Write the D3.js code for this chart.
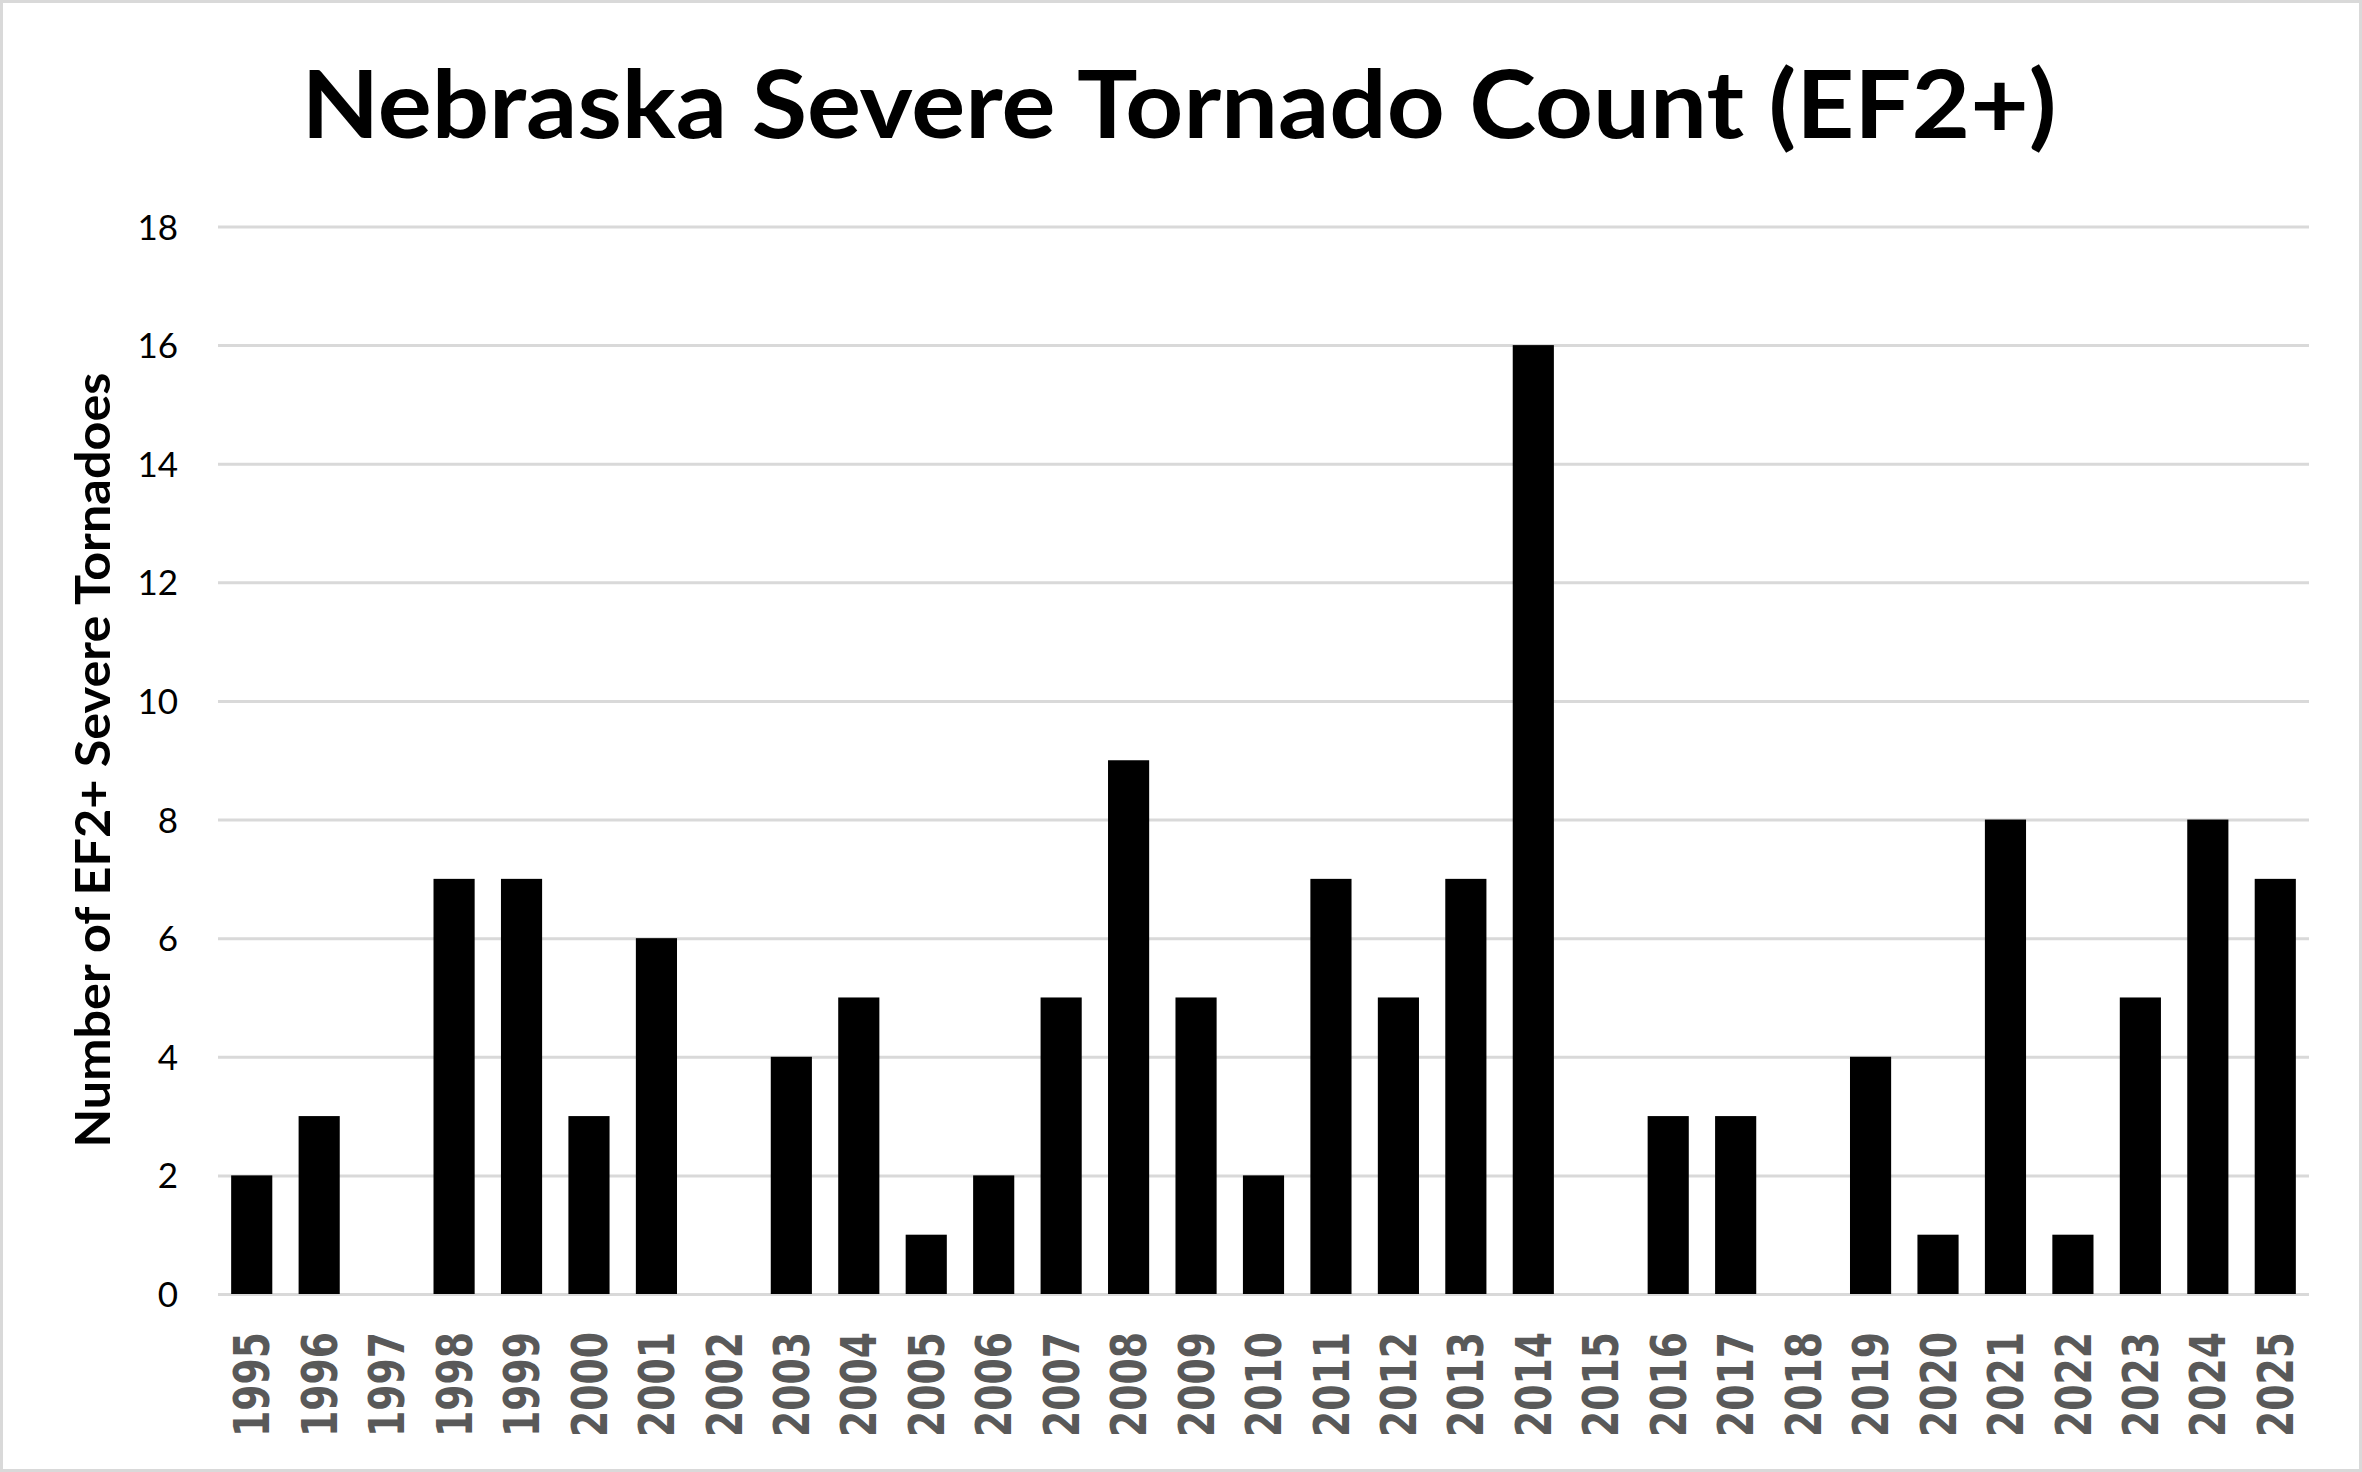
<!DOCTYPE html>
<html>
<head>
<meta charset="utf-8">
<script src="https://cdn.jsdelivr.net/npm/d3@7"></script>
<style>
  html, body { margin: 0; padding: 0; background: #fff; }
  svg { display: block; }
</style>
</head>
<body>
<svg id="chart" width="2362" height="1472"></svg>
<script>
const years = ["1995","1996","1997","1998","1999","2000","2001","2002","2003","2004","2005","2006","2007","2008","2009","2010","2011","2012","2013","2014","2015","2016","2017","2018","2019","2020","2021","2022","2023","2024","2025"];
const counts = [2,3,0,7,7,3,6,0,4,5,1,2,5,9,5,2,7,5,7,16,0,3,3,0,4,1,8,1,5,8,7];
const yTicks = [0,2,4,6,8,10,12,14,16,18];
const titleText = "Nebraska Severe Tornado Count (EF2+)";
const yLabelText = "Number of EF2+ Severe Tornadoes";

const W = 2362, H = 1472;
const plot = { left: 218, right: 2309, top: 226.5, bottom: 1294 };

const svg = d3.select("#chart");

// outer border
svg.append("rect")
  .attr("x", 1.5).attr("y", 1.5)
  .attr("width", W - 3).attr("height", H - 3)
  .attr("fill", "#fff")
  .attr("stroke", "#d9d9d9")
  .attr("stroke-width", 3);

const x = d3.scaleBand()
  .domain(years)
  .range([plot.left, plot.right])
  .paddingInner(0.39)
  .paddingOuter(0.195);

const y = d3.scaleLinear()
  .domain([0, 18])
  .range([plot.bottom, plot.top]);

// y axis with gridlines
const yAxis = svg.append("g")
  .attr("transform", `translate(${plot.left},0)`)
  .call(d3.axisLeft(y)
    .tickValues(yTicks)
    .tickSize(-(plot.right - plot.left))
    .tickPadding(40)
    .tickFormat(d3.format("d")));
yAxis.select(".domain").remove();
yAxis.selectAll(".tick line")
  .attr("stroke", "#d9d9d9")
  .attr("stroke-width", 3);
yAxis.selectAll(".tick text")
  .attr("fill", "#000")
  .attr("font-family", "Lato, 'Open Sans', sans-serif")
  .attr("font-size", 35)
  .attr("dy", "0.36em");

// bars
svg.append("g")
  .selectAll("rect")
  .data(years.map((yr, i) => ({ yr, v: counts[i] })))
  .join("rect")
  .attr("x", d => x(d.yr))
  .attr("y", d => y(d.v))
  .attr("width", x.bandwidth())
  .attr("height", d => y(0) - y(d.v))
  .attr("fill", "#000");

// x axis labels
const xAxis = svg.append("g")
  .attr("transform", `translate(0,${plot.bottom})`)
  .call(d3.axisBottom(x).tickSize(0).tickPadding(0));
xAxis.select(".domain").remove();
xAxis.selectAll(".tick text")
  .attr("fill", "#595959")
  .attr("font-family", "'DejaVu Sans', sans-serif")
  .attr("font-weight", "bold")
  .attr("font-size", 49)
  .attr("text-anchor", "end")
  .attr("transform", "rotate(-90)")
  .attr("x", -38)
  .attr("y", 0)
  .attr("dy", "0.36em")
  .attr("textLength", 105)
  .attr("lengthAdjust", "spacingAndGlyphs");

// title
svg.append("text")
  .attr("x", 1179)
  .attr("y", 138)
  .attr("text-anchor", "middle")
  .attr("font-family", "Lato, 'Open Sans', sans-serif")
  .attr("font-weight", "bold")
  .attr("font-size", 93)
  .attr("fill", "#000")
  .attr("textLength", 1755)
  .attr("lengthAdjust", "spacingAndGlyphs")
  .text(titleText);

// y axis label
svg.append("text")
  .attr("transform", "translate(110,760) rotate(-90)")
  .attr("text-anchor", "middle")
  .attr("font-family", "Lato, 'Open Sans', sans-serif")
  .attr("font-weight", "bold")
  .attr("font-size", 48)
  .attr("fill", "#000")
  .attr("textLength", 775)
  .attr("lengthAdjust", "spacingAndGlyphs")
  .text(yLabelText);
</script>
</body>
</html>
